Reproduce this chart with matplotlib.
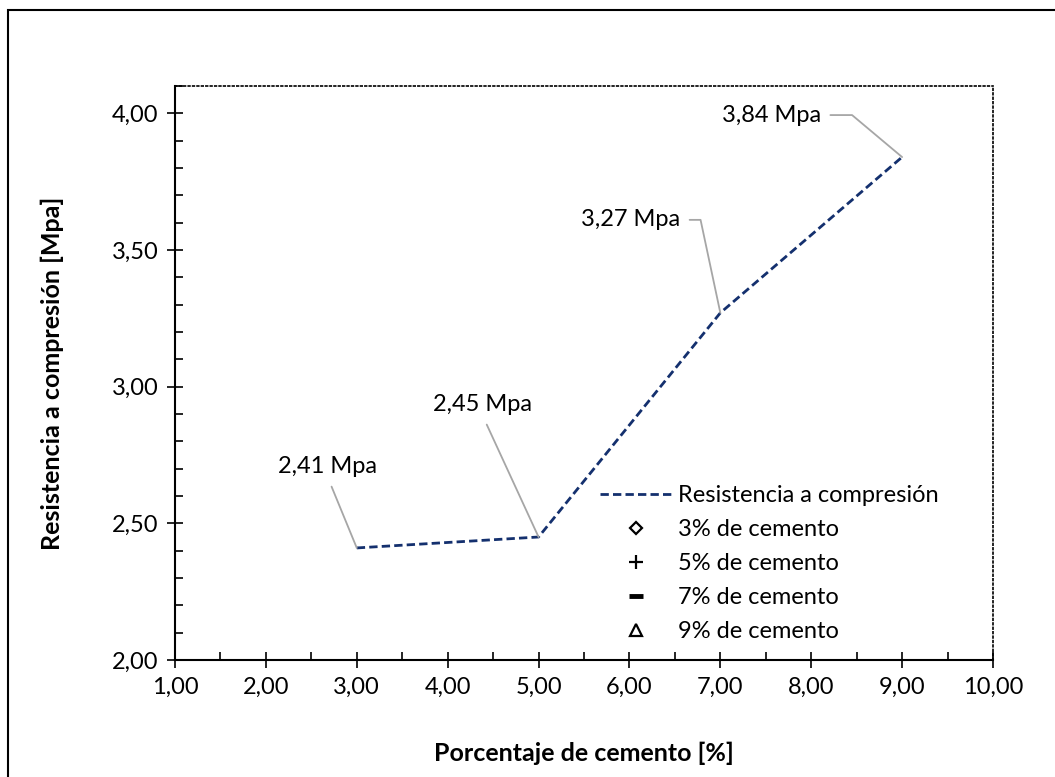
import matplotlib
matplotlib.use('Agg')
import matplotlib.pyplot as plt
from matplotlib.ticker import MultipleLocator, FuncFormatter
from matplotlib.lines import Line2D
from matplotlib.patches import Rectangle

plt.rcParams['font.family'] = ['Lato', 'DejaVu Sans']

# data
cemento = [3, 5, 7, 9]
resistencia = [2.41, 2.45, 3.27, 3.84]
etiquetas = ['2,41 Mpa', '2,45 Mpa', '3,27 Mpa', '3,84 Mpa']
series_legend = ['3% de cemento', '5% de cemento', '7% de cemento', '9% de cemento']

fs = 17

fig = plt.figure(figsize=(10.55, 7.77), dpi=100)
ax = fig.add_axes([175/1055, 1-660/777, 818/1055, 574/777])

ax.plot(cemento, resistencia, ls='--', color='#14306e', lw=2, dashes=(3, 1.5),
        label='Resistencia a compresión')

# data labels, offsets in pixels (layout only)
offs = [(-29, 81), (-56, 132), (-90, 93), (-131, 42)]
rel = [(0.5, 0), (0.5, 0), (1, 0.5), (1, 0.5)]
conn = ['arc3', 'arc3', 'angle,angleA=0,angleB=102', 'angle,angleA=0,angleB=140']
for x, y, t, o, r, c in zip(cemento, resistencia, etiquetas, offs, rel, conn):
    ax.annotate(t, xy=(x, y), xytext=o, textcoords='offset pixels',
                ha='center', va='center', fontsize=fs,
                arrowprops=dict(arrowstyle='-', color='#a6a6a6', lw=1.3,
                                relpos=r, connectionstyle=c,
                                shrinkA=5, shrinkB=0))

ax.set_xlim(1, 10)
ax.set_ylim(2, 4.1)
ax.xaxis.set_major_locator(MultipleLocator(1))
ax.xaxis.set_minor_locator(MultipleLocator(0.5))
ax.yaxis.set_major_locator(MultipleLocator(0.5))
ax.yaxis.set_minor_locator(MultipleLocator(0.1))
fmt = FuncFormatter(lambda v, p: ('%.2f' % v).replace('.', ','))
ax.xaxis.set_major_formatter(fmt)
ax.yaxis.set_major_formatter(fmt)
ax.tick_params(which='major', direction='inout', length=12, width=1.2, labelsize=fs, pad=6)
ax.tick_params(which='minor', direction='in', length=6, width=1.2)
ax.tick_params(top=False, right=False, which='both')

for s in ['top', 'right']:
    ax.spines[s].set_linestyle(':')
    ax.spines[s].set_linewidth(1.2)
for s in ['left', 'bottom']:
    ax.spines[s].set_linewidth(1.5)

ax.set_xlabel('Porcentaje de cemento [%]', fontsize=18, fontweight='bold', labelpad=32)
ax.set_ylabel('Resistencia a compresión [Mpa]', fontsize=18, fontweight='bold', labelpad=34)

markers = [('D', 6.5, 'none'), ('+', 10, 'black'), ('_', 10, 'black'), ('^', 8, 'none')]
handles = [ax.get_lines()[0]]
for (m, ms, fc), lab in zip(markers, series_legend):
    handles.append(Line2D([], [], ls='none', marker=m, markersize=ms,
                          markerfacecolor=fc, markeredgecolor='black',
                          markeredgewidth=1.6 if m != '_' else 3.5, label=lab))
ax.legend(handles=handles, loc='upper left', bbox_to_anchor=(0.52, 0.305),
          frameon=False, fontsize=fs, handlelength=3, labelspacing=0.55,
          handletextpad=0.3, borderaxespad=0, borderpad=0)

fig.patches.append(Rectangle((8/1055, -0.1), 2, 1-10/777+0.1, transform=fig.transFigure,
                             fill=False, lw=1.5, edgecolor='black'))

fig.savefig('out.png', dpi=100)
